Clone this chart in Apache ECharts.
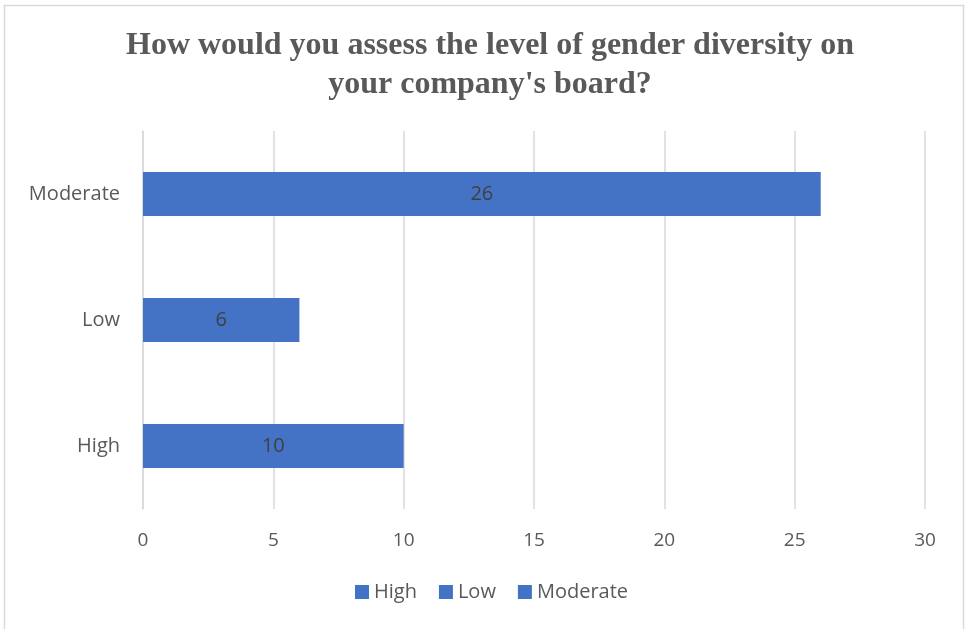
<!DOCTYPE html>
<html>
<head>
<meta charset="utf-8">
<script src="https://cdn.jsdelivr.net/npm/echarts@6/dist/echarts.min.js"></script>
<style>
  html, body { margin: 0; padding: 0; background: #fff; }
  #main { width: 965px; height: 629px; }
</style>
</head>
<body>
<div id="main"></div>
<script>
// categories, bottom to top
const categories = ['High', 'Low', 'Moderate'];
const values = [10, 6, 26];
const xTicks = [0, 5, 10, 15, 20, 25, 30];

const barColor = '#4472C4';
const textColor = '#595959';

const chart = echarts.init(document.getElementById('main'));

// one series per category so the legend lists them, stacked so each sits in its own slot
const series = categories.map((name, i) => ({
  name: name,
  type: 'bar',
  stack: 'all',
  barWidth: 44,
  itemStyle: { color: barColor },
  label: {
    show: true,
    position: 'inside',
    color: '#404040',
    fontFamily: 'Open Sans',
    fontSize: 20
  },
  data: values.map((v, j) => (j === i ? v : '-'))
}));

const options = {
  animation: false,
  title: {
    text: 'How would you assess the level of gender diversity on\nyour company\'s board?',
    left: 485,
    textAlign: 'center',
    top: 21,
    textStyle: {
      fontFamily: 'Liberation Serif',
      fontWeight: 'bold',
      fontSize: 32,
      lineHeight: 39,
      color: textColor
    }
  },
  legend: {
    bottom: 22,
    left: 350,
    itemWidth: 14,
    itemHeight: 14,
    itemGap: 22,
    itemStyle: { borderWidth: 0 },
    icon: 'rect',
    textStyle: { fontFamily: 'Open Sans', fontSize: 20, color: textColor },
    data: categories
  },
  grid: { left: 143, right: 40, top: 131, bottom: 120 },
  xAxis: {
    type: 'value',
    min: xTicks[0],
    max: xTicks[xTicks.length - 1],
    interval: 5,
    axisLine: { show: false },
    axisTick: { show: false },
    splitLine: { lineStyle: { color: '#d9d9d9', width: 1.5 } },
    axisLabel: { margin: 22, fontFamily: 'Open Sans', fontSize: 19, color: textColor }
  },
  yAxis: {
    type: 'category',
    data: categories,
    axisLine: { show: true, lineStyle: { color: '#d9d9d9', width: 1.5 } },
    axisTick: { show: false },
    axisLabel: { margin: 23, fontFamily: 'Open Sans', fontSize: 20, color: textColor }
  },
  graphic: [
    {
      type: 'polyline',
      shape: { points: [[4.5, 629], [4.5, 5.5], [963.5, 5.5], [963.5, 629]] },
      style: { fill: null, stroke: '#d9d9d9', lineWidth: 1.5 }
    }
  ],
  series: series
};

chart.setOption(options, true);
</script>
</body>
</html>
